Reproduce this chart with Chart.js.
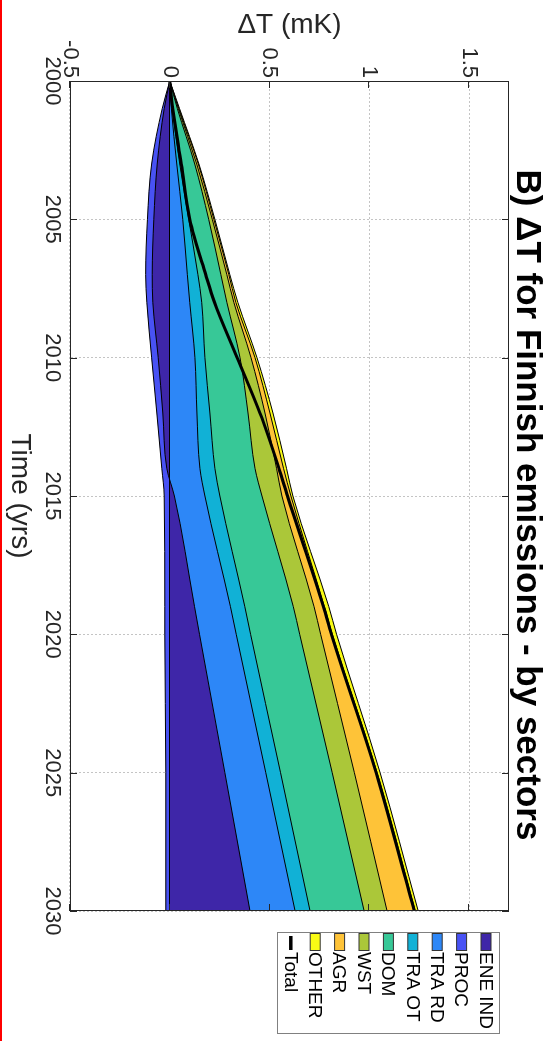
<!DOCTYPE html>
<html>
<head>
<meta charset="utf-8">
<title>ΔT for Finnish emissions - by sectors</title>
<script src="https://cdn.jsdelivr.net/npm/chart.js@4.4.1/dist/chart.umd.min.js"></script>
<style>
  html, body { margin: 0; padding: 0; background: #fff; overflow: hidden; width: 551px; height: 1041px; }
  /* the figure is laid out landscape and turned a quarter clockwise */
  #stage { position: absolute; left: 0; top: 0; width: 1041px; height: 551px;
           transform-origin: 0 0; transform: translate(551px, 0) rotate(90deg); }
  #edge { position: absolute; left: 0; top: 0; width: 2px; height: 1041px; background: #ff0000; }
</style>
</head>
<body>
<div id="stage"><canvas id="chart" width="1041" height="551"></canvas></div>
<div id="edge"></div>
<script>
const FONT = '"Liberation Sans", Arial, Helvetica, sans-serif';

// simulation years
const years = [2000, 2001, 2003, 2005, 2007, 2008, 2010, 2012, 2014, 2015, 2019, 2020, 2025, 2030];

// temperature response per sector (mK)
const eneInd = [0, -0.028, -0.063, -0.080, -0.088, -0.085, -0.058, -0.035, -0.015, 0.023, 0.124, 0.149, 0.276, 0.402];
const proc   = [0, -0.010, -0.028, -0.032, -0.033, -0.030, -0.033, -0.030, -0.025, -0.028, -0.025, -0.025, -0.020, -0.020];
const traRd  = [0, 0.008, 0.035, 0.065, 0.088, 0.100, 0.126, 0.136, 0.151, 0.153, 0.180, 0.184, 0.205, 0.226];
const traOt  = [0, 0.005, 0.015, 0.030, 0.053, 0.060, 0.050, 0.065, 0.075, 0.075, 0.072, 0.072, 0.074, 0.075];
const dom    = [0, 0.025, 0.075, 0.100, 0.115, 0.126, 0.176, 0.191, 0.201, 0.211, 0.243, 0.246, 0.259, 0.271];
const wst    = [0, 0.005, 0.010, 0.018, 0.030, 0.035, 0.055, 0.085, 0.108, 0.100, 0.104, 0.105, 0.111, 0.115];
const agr    = [0, 0.003, 0.008, 0.008, 0.010, 0.010, 0.020, 0.025, 0.035, 0.045, 0.052, 0.059, 0.114, 0.141];
const other  = [0, 0.003, 0.003, 0.005, 0.005, 0.010, 0.010, 0.015, 0.015, 0.010, 0.022, 0.021, 0.015, 0.015];
const totalDT = [0, 0.015, 0.058, 0.100, 0.180, 0.224, 0.338, 0.452, 0.547, 0.590, 0.770, 0.810, 1.034, 1.225];

const sectorNames = ['ENE IND', 'PROC', 'TRA RD', 'TRA OT', 'DOM', 'WST', 'AGR', 'OTHER'];
const sectorColors = ['#3e26a8', '#4852f4', '#2d87f7', '#11b1d6', '#37c897', '#abc739', '#fec338', '#f9fb15'];
const sectorSeries = [eneInd, proc, traRd, traOt, dom, wst, agr, other];

// axis ticks
const yearTicks = [2000, 2005, 2010, 2015, 2020, 2025, 2030];
const dTTicks = [-0.5, 0, 0.5, 1, 1.5];

const chartTitle = 'B) ΔT for Finnish emissions - by sectors';

const toPoints = arr => years.map((yr, i) => ({ x: yr, y: arr[i] }));

// Total is listed first so it is painted last, over the stacked areas;
// the outer sector layers are painted before the inner ones.
const datasets = [
  {
    label: 'Total', data: toPoints(totalDT), stack: 'total', fill: false,
    borderColor: '#000', borderWidth: 3, pointRadius: 0, cubicInterpolationMode: 'monotone'
  },
  ...sectorSeries.map((series, k) => ({
    label: sectorNames[k], data: toPoints(series), stack: 'sectors', fill: 'origin',
    backgroundColor: sectorColors[k], borderColor: '#000', borderWidth: 1,
    pointRadius: 0, cubicInterpolationMode: 'monotone'
  }))
];

// zero baseline of the area stack
const zeroBaseline = {
  id: 'zeroBaseline',
  beforeDatasetDraw(chart, args) {
    if (args.index !== 0) return;
    const { ctx, chartArea: a, scales: { y } } = chart;
    const py = Math.round(y.getPixelForValue(0)) + 0.5;
    ctx.save();
    ctx.strokeStyle = '#000';
    ctx.lineWidth = 1;
    ctx.beginPath();
    ctx.moveTo(a.left, py);
    ctx.lineTo(a.right, py);
    ctx.stroke();
    ctx.restore();
  }
};

// boxed axes with inward tick marks
const axesFrame = {
  id: 'axesFrame',
  afterDatasetsDraw(chart) {
    const { ctx, chartArea: a, scales: { x, y } } = chart;
    const tl = 7;
    ctx.save();
    ctx.strokeStyle = '#262626';
    ctx.lineWidth = 1;
    ctx.strokeRect(Math.round(a.left) + 0.5, Math.round(a.top) + 0.5,
                   Math.round(a.right - a.left) - 1, Math.round(a.bottom - a.top) - 1);
    ctx.beginPath();
    yearTicks.forEach(v => {
      const px = Math.round(x.getPixelForValue(v)) + 0.5;
      ctx.moveTo(px, a.bottom); ctx.lineTo(px, a.bottom - tl);
      ctx.moveTo(px, a.top); ctx.lineTo(px, a.top + tl);
    });
    dTTicks.forEach(v => {
      const py = Math.round(y.getPixelForValue(v)) + 0.5;
      ctx.moveTo(a.left, py); ctx.lineTo(a.left + tl, py);
      ctx.moveTo(a.right, py); ctx.lineTo(a.right - tl, py);
    });
    ctx.stroke();
    ctx.restore();
  }
};

// heading and boxed key
const titleAndKey = {
  id: 'titleAndKey',
  afterDraw(chart) {
    const { ctx, chartArea: a } = chart;
    ctx.save();
    ctx.fillStyle = '#000';
    ctx.font = 'bold 35px ' + FONT;
    ctx.textAlign = 'center';
    ctx.textBaseline = 'middle';
    ctx.fillText(chartTitle, (a.left + a.right) / 2 + 9, 24);

    const bx = Math.round(a.right) + 21, by = Math.round(a.top) + 9, bw = 101, bh = 222;
    ctx.fillStyle = '#fff';
    ctx.fillRect(bx, by, bw, bh);
    ctx.strokeStyle = '#808080';
    ctx.lineWidth = 1;
    ctx.strokeRect(bx + 0.5, by + 0.5, bw, bh);

    const pitch = 24.4;
    ctx.font = '19px ' + FONT;
    ctx.textAlign = 'left';
    const keys = sectorNames.map((n, k) => ({ text: n, color: sectorColors[k] }));
    keys.push({ text: 'Total', line: true });
    keys.forEach((item, i) => {
      const cy = by + 14 + i * pitch;
      if (item.line) {
        ctx.strokeStyle = '#000';
        ctx.lineWidth = 3.5;
        ctx.beginPath();
        ctx.moveTo(bx + 4, cy);
        ctx.lineTo(bx + 18, cy);
        ctx.stroke();
      } else {
        ctx.fillStyle = item.color;
        ctx.fillRect(bx + 1.5, cy - 5, 17, 10);
        ctx.strokeStyle = '#333';
        ctx.lineWidth = 1;
        ctx.strokeRect(bx + 1.5, cy - 5, 17, 10);
      }
      ctx.fillStyle = '#000';
      ctx.fillText(item.text, bx + 20, cy + 1);
    });
    ctx.restore();
  }
};

new Chart(document.getElementById('chart'), {
  type: 'line',
  data: { datasets },
  plugins: [zeroBaseline, axesFrame, titleAndKey],
  options: {
    responsive: false,
    animation: false,
    devicePixelRatio: 1,
    layout: { padding: { left: 0, right: 130, top: 42, bottom: 0 } },
    plugins: { legend: { display: false }, title: { display: false }, tooltip: { enabled: false } },
    scales: {
      x: {
        type: 'linear', min: 2000, max: 2030,
        afterBuildTicks: s => { s.ticks = yearTicks.map(v => ({ value: v })); },
        afterFit: s => { s.height = 70; },
        ticks: { font: { family: FONT, size: 22 }, color: '#262626', padding: 5,
                 maxRotation: 0, autoSkip: false, callback: v => String(v) },
        grid: { color: '#c4c4c4', lineWidth: 1, drawTicks: false },
        border: { display: false, dash: [2, 2] },
        title: { display: true, text: 'Time (yrs)', font: { family: FONT, size: 28 },
                 color: '#262626', padding: { top: 0, bottom: 3 } }
      },
      y: {
        type: 'linear', stacked: true, min: -0.5, max: 1.7,
        afterBuildTicks: s => { s.ticks = dTTicks.map(v => ({ value: v })); },
        afterFit: s => { s.width = 81; },
        ticks: { font: { family: FONT, size: 22 }, color: '#262626', padding: 3,
                 autoSkip: false, callback: v => String(v) },
        grid: { color: '#c4c4c4', lineWidth: 1, drawTicks: false },
        border: { display: false, dash: [2, 2] },
        title: { display: true, text: 'ΔT (mK)', font: { family: FONT, size: 28 },
                 color: '#262626', padding: { top: 8, bottom: 0 } }
      }
    }
  }
});
</script>
</body>
</html>
